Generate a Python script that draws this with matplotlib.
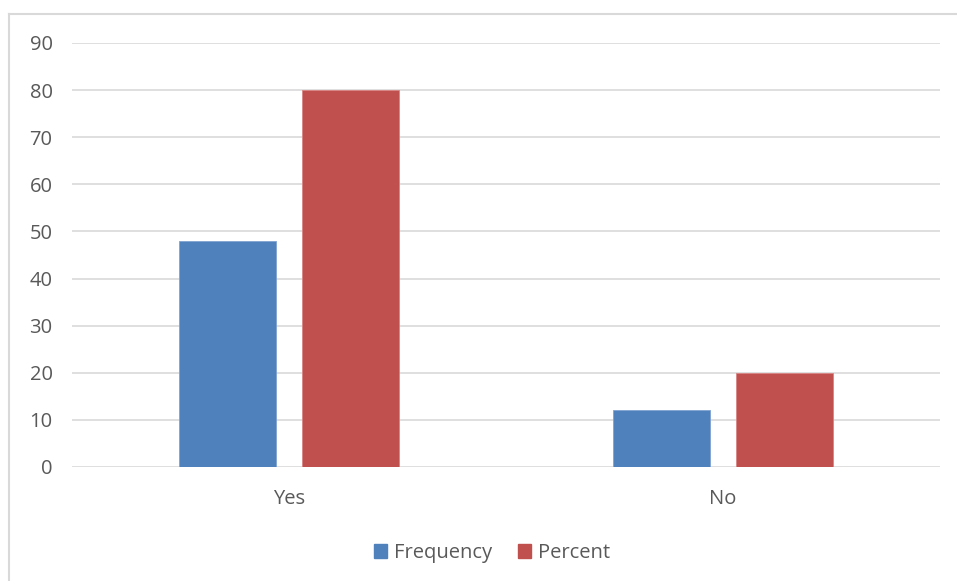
import matplotlib
matplotlib.use("Agg")
import matplotlib.pyplot as plt
from matplotlib.lines import Line2D
from matplotlib.patches import Patch
import numpy as np

categories = ["Yes", "No"]
frequency = [48, 12]
percent = [80, 20]
series_names = ["Frequency", "Percent"]
y_ticks = [0, 10, 20, 30, 40, 50, 60, 70, 80, 90]

blue = "#4F81BD"
red = "#C0504D"
grid_color = "#D9D9D9"
text_color = "#595959"

plt.rcParams["font.family"] = ["Open Sans", "DejaVu Sans"]

W, H = 957, 581
fig = plt.figure(figsize=(W / 100, H / 100), dpi=100)
fig.patch.set_facecolor("white")

ax = fig.add_axes([72 / W, (H - 467) / H, (940 - 72) / W, (467 - 43) / H])

x = np.arange(len(categories))
width = 0.2235
offset = 0.1417
ax.bar(x - offset, frequency, width, color=blue, edgecolor="#7FA3D1", linewidth=0.6, zorder=3)
ax.bar(x + offset, percent, width, color=red, edgecolor="#D98583", linewidth=0.6, zorder=3)

ax.set_xlim(-0.5, 1.5)
ax.set_ylim(0, 90)
ax.set_yticks(y_ticks)
ax.set_xticks(x)
ax.set_xticklabels(categories)
ax.tick_params(axis="both", length=0, colors=text_color, labelsize=14.5)
ax.tick_params(axis="y", pad=14)
ax.tick_params(axis="x", pad=16)
ax.yaxis.grid(True, color=grid_color, linewidth=1.2, zorder=0)
for s in ax.spines.values():
    s.set_visible(False)

# outer chart border (left and top edges)
fig.add_artist(Line2D([9 / W, 9 / W], [0, (H - 14) / H], color="#D9D9D9", linewidth=1.5))
fig.add_artist(Line2D([9 / W, 1], [(H - 14) / H, (H - 14) / H], color="#D9D9D9", linewidth=1.5))

handles = [Patch(facecolor=blue, edgecolor=blue), Patch(facecolor=red, edgecolor=red)]
fig.legend(handles, series_names, loc="center", bbox_to_anchor=(492 / W, (H - 553) / H),
           ncol=2, frameon=False, fontsize=14.5, labelcolor=text_color,
           handlelength=0.65, handleheight=0.65, handletextpad=0.35, columnspacing=1.3)

fig.savefig("out.png", dpi=100, facecolor="white")
